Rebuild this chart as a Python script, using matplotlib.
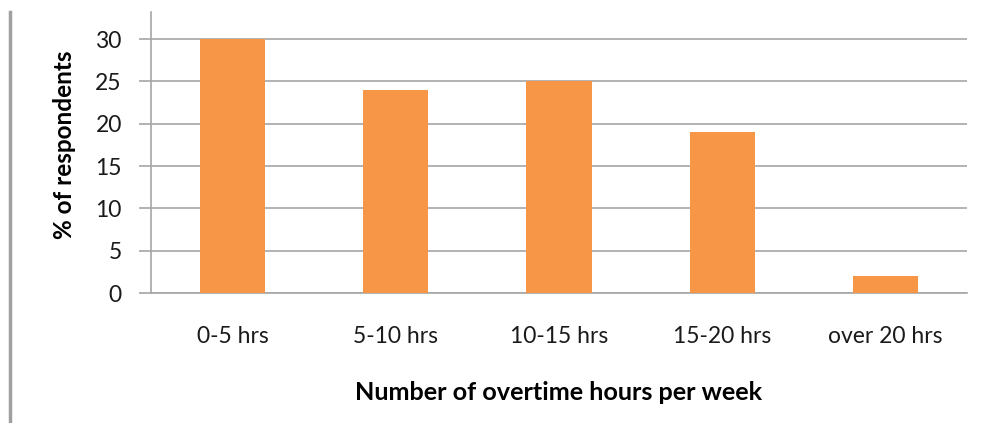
import matplotlib
matplotlib.use("Agg")
import matplotlib.pyplot as plt
from matplotlib.lines import Line2D

categories = ["0-5 hrs", "5-10 hrs", "10-15 hrs", "15-20 hrs", "over 20 hrs"]
values = [30, 24, 25, 19, 2]
yticks = [0, 5, 10, 15, 20, 25, 30]

plt.rcParams['font.family'] = ['Lato', 'DejaVu Sans']

fig = plt.figure(figsize=(9.83, 4.23), dpi=100)
ax = fig.add_axes([151/983, 1 - 293/423, (967-151)/983, (293-12)/423])

x = list(range(len(categories)))
ax.bar(x, values, width=0.4, color="#F79646", zorder=3)
ax.set_xlim(-0.5, len(categories) - 0.5)
ax.set_ylim(0, 33.2)
ax.set_yticks(yticks)
ax.set_xticks(x)
ax.set_xticklabels(categories)
ax.yaxis.grid(True, color="#A6A6A6", linewidth=1.2, zorder=0)
for s in ["top", "right"]:
    ax.spines[s].set_visible(False)
ax.spines["left"].set_color("#A6A6A6")
ax.spines["bottom"].set_color("#A6A6A6")
ax.spines["left"].set_linewidth(1.2)
ax.spines["bottom"].set_linewidth(1.2)
ax.tick_params(axis="y", length=9, width=1.2, color="#A6A6A6", labelsize=16.5, pad=12,
               labelcolor="#1a1a1a")
ax.tick_params(axis="x", length=0, labelsize=16.5, pad=24, labelcolor="#1a1a1a")
ax.set_xlabel("Number of overtime hours per week", fontsize=18.2, fontweight="bold", labelpad=24)
ax.set_ylabel("% of respondents", fontsize=17.5, fontweight="bold", labelpad=14)
ax.yaxis.label.set_y((293 - 145) / 281)

fig.add_artist(Line2D([10/983, 10/983], [0, 1 - 12/423], transform=fig.transFigure,
                      color="#A0A0A0", linewidth=2.5))

fig.savefig("out.png", dpi=100)
